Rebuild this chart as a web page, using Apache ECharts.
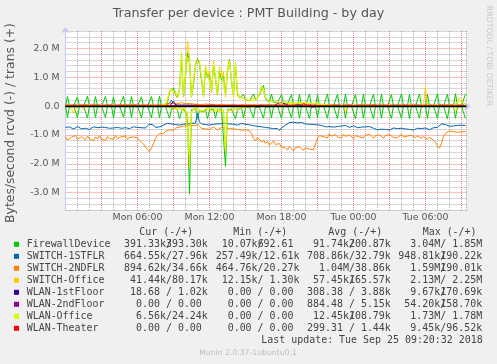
<!DOCTYPE html>
<html><head><meta charset="utf-8">
<script src="https://cdn.jsdelivr.net/npm/echarts@6/dist/echarts.min.js"></script>
<style>html,body{margin:0;padding:0;background:#f0f0f0}#c{width:497px;height:364px}</style>
</head><body><div id="c"></div>
<script>
// 10-minute samples from Mon 00:00; values in MB/s (rcvd drawn negative, as Munin does)
const STEP_HOURS = 1/6;

const deviceNames = ['FirewallDevice','SWITCH-1STFLR','SWITCH-2NDFLR','SWITCH-Office','WLAN-1stFloor','WLAN-2ndFloor','WLAN-Office','WLAN-Theater'];
const deviceColors = ['#00CC00','#0066B3','#FF8000','#FFCC00','#330099','#990099','#CCFF00','#FF0000'];

const firewallTrans = [
0,0.33,0,0,0,0,0.32,0,0,0,0,0.34,0,0,0,0.33,0,0,0,0,
0.33,0,0,0,0.32,0,0,0,0,0.34,0,0,0,0.33,0,0,0,0,0.32,0,
0,0,0,0.33,0,0,0,0.34,0,0,0.05,0.12,0.50,0.55,0.62,0.40,0.28,0.60,1.60,0.32,
1.00,1.85,1.50,0.32,0.75,1.40,1.65,1.45,0.90,0.32,1.30,1.00,1.10,0.50,1.40,0.95,0.38,1.25,0.90,1.05,
0.42,1.20,1.62,0.85,0.38,1.40,0.42,0.28,0.24,0.40,0.24,0.20,0.18,0.20,0.42,0.22,0.18,0.38,0.58,0.72,
0.24,0.18,0.14,0.42,0.12,0.10,0.12,0.10,0.40,0.10,0.08,0.06,0.05,0.40,0.04,0.03,0.02,0.40,0.02,0.02,
0,0,0.42,0,0,0,0.40,0,0,0,0,0.42,0,0,0,0,0.41,0,0,0,
0.42,0,0,0,0,0.40,0,0,0,0.42,0,0,0,0,0.41,0,0,0,0.42,0,
0,0,0,0.40,0,0,0,0,0.42,0,0,0,0.41,0,0,0,0,0.42,0,0,
0,0.40,0,0,0,0,0.42,0,0,0,0,0.41,0,0,0,0.43,0,0,0,0,
0.42];
const firewallRcvd = [
0,-0.40,0,0,0,0,-0.39,0,0,0,0,-0.41,0,0,0,-0.40,0,0,0,0,
-0.40,0,0,0,-0.41,0,0,0,0,-0.39,0,0,0,-0.40,0,0,0,0,-0.41,0,
0,0,0,-0.40,0,0,0,-0.41,0,0,-0.02,-0.05,-0.42,-0.10,-0.12,-0.08,-0.15,-0.44,-0.18,-0.10,
-0.20,-0.45,-3.04,-0.12,-0.18,-0.10,-0.42,-0.15,-0.12,-0.20,-0.10,-0.44,-0.14,-0.18,-0.10,-0.42,-0.12,-0.16,-0.10,-0.14,
-2.09,-0.12,-0.18,-0.10,-0.14,-0.43,-0.12,-0.08,-0.06,-0.42,-0.05,-0.04,-0.05,-0.03,-0.41,-0.04,-0.03,-0.05,-0.04,-0.42,
-0.03,-0.02,-0.03,-0.41,-0.02,-0.02,-0.01,-0.02,-0.42,-0.01,0,0,0,-0.41,0,0,0,-0.42,0,0,
0,0,-0.43,0,0,0,-0.41,0,0,0,0,-0.42,0,0,0,0,-0.43,0,0,0,
-0.42,0,0,0,0,-0.44,0,0,0,-0.42,0,0,0,0,-0.43,0,0,0,-0.42,0,
0,0,0,-0.43,0,0,0,0,-0.42,0,0,0,-0.44,0,0,0,0,-0.42,0,0,
0,-0.43,0,0,0,0,-0.42,0,0,0,0,-0.44,0,0,0,-0.42,0,0,0,0,
-0.43];

const switch1Trans = [
0.03,0.03,0.02,0.03,0.04,0.03,0.03,0.02,0.03,0.03,0.04,0.03,0.02,0.03,0.03,0.03,0.04,0.03,0.02,0.03,
0.03,0.03,0.04,0.03,0.02,0.03,0.03,0.03,0.04,0.03,0.03,0.02,0.03,0.03,0.04,0.03,0.03,0.02,0.03,0.03,
0.03,0.04,0.03,0.03,0.02,0.03,0.03,0.04,0.03,0.03,0.04,0.06,0.10,0.19,0.09,0.05,0.04,0.08,0.04,0.03,
0.04,0.05,0.04,0.03,0.04,0.05,0.06,0.04,0.03,0.04,0.03,0.04,0.05,0.04,0.03,0.04,0.03,0.04,0.03,0.04,
0.03,0.04,0.03,0.03,0.04,0.03,0.03,0.04,0.03,0.03,0.03,0.04,0.03,0.03,0.03,0.04,0.03,0.03,0.04,0.03,
0.03,0.03,0.04,0.03,0.03,0.03,0.04,0.03,0.03,0.03,0.04,0.03,0.03,0.03,0.04,0.03,0.03,0.03,0.04,0.03,
0.03,0.03,0.02,0.03,0.04,0.03,0.03,0.02,0.03,0.03,0.04,0.03,0.02,0.03,0.03,0.03,0.04,0.03,0.02,0.03,
0.03,0.03,0.04,0.03,0.02,0.03,0.03,0.03,0.04,0.03,0.03,0.02,0.03,0.03,0.04,0.03,0.03,0.02,0.03,0.03,
0.03,0.03,0.02,0.03,0.04,0.03,0.03,0.02,0.03,0.03,0.04,0.03,0.02,0.03,0.03,0.03,0.04,0.03,0.02,0.03,
0.03,0.03,0.04,0.03,0.02,0.03,0.03,0.03,0.04,0.03,0.03,0.02,0.03,0.03,0.04,0.03,0.03,0.02,0.03,0.03,
0.03];
const switch1Rcvd = [
-0.74,-0.78,-0.72,-0.77,-0.80,-0.75,-0.71,-0.76,-0.79,-0.74,-0.77,-0.73,-0.81,-0.76,-0.72,-0.78,-0.75,-0.79,-0.73,-0.76,
-0.74,-0.80,-0.77,-0.72,-0.76,-0.78,-0.74,-0.71,-0.77,-0.79,-0.75,-0.73,-0.78,-0.76,-0.72,-0.77,-0.74,-0.79,-0.75,-0.73,
-0.76,-0.72,-0.62,-0.58,-0.66,-0.74,-0.76,-0.72,-0.70,-0.66,-0.63,-0.60,-0.65,-0.62,-0.59,-0.64,-0.61,-0.66,-0.60,-0.63,
-0.58,-0.62,-0.65,-0.60,-0.63,-0.59,-0.26,-0.55,-0.62,-0.59,-0.64,-0.61,-0.66,-0.60,-0.63,-0.58,-0.62,-0.65,-0.61,-0.63,
-0.60,-0.64,-0.62,-0.59,-0.63,-0.61,-0.66,-0.62,-0.60,-0.64,-0.63,-0.61,-0.65,-0.66,-0.68,-0.65,-0.70,-0.69,-0.72,-0.70,
-0.74,-0.73,-0.76,-0.75,-0.78,-0.80,-0.78,-0.85,-0.76,-0.72,-0.66,-0.61,-0.57,-0.60,-0.56,-0.59,-0.58,-0.61,-0.57,-0.60,
-0.62,-0.59,-0.63,-0.66,-0.64,-0.68,-0.65,-0.70,-0.67,-0.69,-0.72,-0.68,-0.71,-0.70,-0.73,-0.68,-0.71,-0.74,-0.69,-0.72,
-0.67,-0.71,-0.74,-0.70,-0.68,-0.72,-0.75,-0.70,-0.73,-0.69,-0.72,-0.76,-0.71,-0.74,-0.77,-0.79,-0.82,-0.77,-0.80,-0.76,
-0.81,-0.78,-0.83,-0.79,-0.76,-0.80,-0.78,-0.82,-0.77,-0.80,-0.79,-0.76,-0.81,-0.78,-0.83,-0.79,-0.77,-0.81,-0.78,-0.80,
-0.76,-0.79,-0.82,-0.78,-0.75,-0.77,-0.74,-0.68,-0.62,-0.60,-0.64,-0.67,-0.70,-0.66,-0.69,-0.72,-0.67,-0.70,-0.66,-0.69,
-0.68];

const switch2Trans = [
0.04,0.03,0.04,0.05,0.04,0.04,0.03,0.04,0.05,0.04,0.04,0.03,0.04,0.04,0.05,0.04,0.03,0.04,0.04,0.05,
0.04,0.03,0.04,0.05,0.04,0.04,0.03,0.04,0.05,0.04,0.04,0.03,0.04,0.04,0.05,0.04,0.03,0.04,0.04,0.05,
0.04,0.03,0.04,0.05,0.04,0.04,0.03,0.04,0.05,0.04,0.05,0.06,0.08,0.07,0.09,0.06,0.08,0.10,0.12,0.07,
0.08,0.10,0.09,0.06,0.07,0.08,0.06,0.07,0.05,0.06,0.07,0.05,0.06,0.05,0.06,0.05,0.04,0.05,0.06,0.05,
0.04,0.03,0.04,0.05,0.04,0.04,0.03,0.04,0.05,0.04,0.04,0.03,0.04,0.04,0.05,0.04,0.03,0.04,0.04,0.05,
0.04,0.03,0.04,0.05,0.04,0.04,0.03,0.04,0.05,0.04,0.04,0.03,0.04,0.04,0.05,0.04,0.03,0.04,0.04,0.05,
0.04,0.03,0.04,0.05,0.04,0.04,0.03,0.04,0.05,0.04,0.04,0.03,0.04,0.04,0.05,0.04,0.03,0.04,0.04,0.05,
0.04,0.03,0.04,0.05,0.04,0.04,0.03,0.04,0.05,0.04,0.04,0.03,0.04,0.04,0.05,0.04,0.03,0.04,0.04,0.05,
0.04,0.03,0.04,0.05,0.04,0.04,0.03,0.04,0.05,0.04,0.04,0.03,0.04,0.04,0.05,0.04,0.03,0.04,0.04,0.05,
0.04,0.03,0.04,0.05,0.04,0.04,0.03,0.04,0.05,0.04,0.04,0.03,0.04,0.04,0.05,0.04,0.03,0.04,0.04,0.05,
0.04];
const switch2Rcvd = [
-1.05,-1.18,-1.22,-1.08,-1.12,-1.02,-1.15,-1.20,-1.06,-1.11,-1.17,-1.04,-1.13,-1.09,-1.21,-1.07,-1.14,-1.03,-1.16,-1.10,
-1.19,-1.05,-1.12,-1.08,-1.15,-1.02,-1.13,-1.18,-1.06,-1.11,-1.04,-1.16,-1.09,-1.13,-1.07,-1.12,-1.10,-1.18,-1.25,-1.32,
-1.42,-1.50,-1.58,-1.45,-1.30,-1.12,-1.02,-0.95,-0.92,-0.96,-0.88,-0.86,-0.82,-0.78,-0.84,-0.76,-0.80,-0.73,-0.77,-0.70,
-0.74,-0.68,-0.72,-0.66,-0.71,-0.69,-0.62,-0.70,-0.77,-0.73,-0.79,-0.75,-0.81,-0.76,-0.72,-0.78,-0.83,-0.77,-0.74,-0.80,
-0.76,-0.82,-0.78,-0.73,-0.79,-0.75,-0.81,-0.77,-0.84,-0.79,-0.82,-0.78,-0.85,-0.95,-1.12,-1.20,-1.08,-1.15,-1.25,-1.18,
-1.30,-1.22,-1.35,-1.28,-1.20,-1.33,-1.38,-1.30,-1.42,-1.36,-1.45,-1.52,-1.40,-1.48,-1.55,-1.44,-1.50,-1.42,-1.47,-1.53,
-1.45,-1.40,-1.49,-1.44,-1.51,-1.46,-1.12,-1.02,-0.98,-1.06,-1.01,-1.10,-0.96,-1.04,-1.08,-0.99,-1.07,-1.03,-1.11,-0.97,
-1.05,-1.09,-1.00,-1.06,-1.13,-1.02,-0.98,-1.07,-1.04,-1.10,-1.01,-1.06,-0.97,-1.05,-1.12,-1.03,-1.08,-1.00,-1.06,-1.11,
-1.02,-1.07,-0.99,-1.04,-1.09,-1.03,-1.10,-1.05,-0.98,-1.07,-1.13,-1.04,-1.08,-1.01,-1.06,-1.10,-1.03,-1.07,-1.12,-1.05,
-1.09,-1.15,-1.08,-1.12,-1.18,-1.25,-1.38,-1.46,-1.30,-1.05,-0.95,-0.90,-0.86,-0.92,-0.88,-0.84,-0.91,-0.87,-0.89,-0.85,
-0.88];

const switchOfficeTrans = [
0.01,0.01,0.01,0.01,0.01,0.01,0.01,0.01,0.01,0.01,0.01,0.01,0.01,0.01,0.01,0.01,0.01,0.01,0.01,0.01,
0.01,0.01,0.01,0.01,0.01,0.01,0.01,0.01,0.01,0.01,0.01,0.01,0.01,0.01,0.01,0.01,0.01,0.01,0.01,0.01,
0.01,0.01,0.01,0.01,0.01,0.01,0.01,0.01,0.02,0.05,0.08,0.15,0.55,0.62,0.45,0.52,0.28,0.58,1.88,0.30,
1.15,2.25,1.75,0.30,0.85,1.50,1.62,1.55,0.95,0.30,1.42,1.05,1.22,0.45,1.55,0.95,0.35,1.38,0.98,1.20,
0.30,1.30,1.58,0.90,0.30,1.52,0.35,0.35,0.28,0.32,0.22,0.28,0.18,0.25,0.20,0.30,0.22,0.45,0.70,0.65,
0.30,0.22,0.18,0.16,0.12,0.15,0.10,0.13,0.09,0.12,0.10,0.14,0.09,0.11,0.13,0.08,0.12,0.10,0.14,0.09,
0.11,0.08,0.12,0.10,0.07,0.09,0.11,0.06,0.08,0.05,0.04,0.03,0.02,0.01,0.01,0.01,0.01,0.01,0.01,0.01,
0.01,0.01,0.01,0.01,0.01,0.01,0.01,0.01,0.01,0.01,0.01,0.01,0.01,0.01,0.01,0.01,0.01,0.01,0.01,0.01,
0.01,0.01,0.01,0.01,0.01,0.01,0.01,0.01,0.01,0.01,0.01,0.01,0.01,0.01,0.01,0.01,0.01,0.01,0.01,0.01,
0.67,0.05,0.01,0.01,0.01,0.01,0.01,0.01,0.01,0.01,0.01,0.01,0.01,0.01,0.03,0.06,0.10,0.30,0.35,0.12,
0.05];
const switchOfficeRcvd = [
0,0,0,-0.08,-0.25,-0.10,0,0,0,-0.12,0,0,0,0,0,0,0,0,0,0,
0,0,0,0,0,0,0,0,0,0,0,0,0,0,0,0,0,0,0,0,
0,0,0,0,0,0,0,0,0,0,-0.01,-0.03,-0.06,-0.10,-0.08,-0.05,-0.12,-0.15,-0.10,-0.18,
-0.14,-0.20,-2.13,-0.25,-0.12,-0.16,-0.10,-0.18,-0.14,-0.22,-0.12,-0.15,-0.10,-0.18,-0.13,-0.16,-0.11,-0.20,-0.14,-0.17,
-1.60,-0.22,-0.15,-0.12,-0.18,-0.10,-0.14,-0.09,-0.06,-0.05,-0.04,-0.03,-0.02,-0.03,-0.02,-0.02,-0.01,-0.03,-0.02,-0.01,
0,0,0,0,0,0,0,0,0,0,0,0,0,0,0,0,0,0,0,0,
0,0,0,0,0,0,0,0,0,0,0,0,0,0,0,0,0,0,0,0,
-0.18,-0.08,0,0,0,0,0,0,0,0,0,0,0,0,0,0,0,0,0,0,
0,0,0,0,0,0,0,0,0,0,0,0,0,0,0,0,0,0,0,0,
0,0,0,0,0,0,0,0,0,0,0,0,0,0,-0.05,-0.18,-0.12,-0.04,0,0,
0];

const wlan1Trans = [
0,0,0,0,0,0,0,0,0,0,0,0,0,0,0,0,0,0,0,0,
0,0,0,0,0,0,0,0,0,0,0,0,0,0,0,0,0,0,0,0,
0,0,0,0,0,0,0,0,0,0,0,0,0,0.05,0.17,0.04,0,0,0,0,
0,0,0,0,0,0,0,0,0,0,0,0,0,0.03,0.07,0.02,0,0,0,0,
0,0,0,0,0,0,0,0,0,0,0,0,0,0,0,0,0,0,0,0,
0,0,0,0,0,0,0,0,0,0,0,0,0,0,0,0.03,0.05,0.04,0.02,0,
0,0,0,0,0,0,0,0,0,0,0,0,0,0,0,0,0,0,0,0,
0,0,0,0,0,0,0,0,0,0,0,0,0,0,0,0,0,0,0,0,
0,0,0,0,0,0,0,0,0,0,0,0,0,0,0,0,0,0,0,0,
0,0,0,0,0,0,0,0,0,0,0,0,0,0,0,0,0,0,0,0,
0];
const wlan1Rcvd = [
0,0,0,0,0,0,0,0,0,0,0,0,0,0,0,0,0,0,0,0,
0,0,0,0,0,0,0,0,0,0,0,0,0,0,0,0,0,0,0,0,
0,0,0,0,0,0,0,0,0,0,0,0,0,0,0,0,0,0,0,0,
0,0,0,0,0,0,0,0,0,0,0,0,0,0,0,0,0,0,0,0,
0,0,0,0,0,0,0,0,0,0,0,0,0,0,0,0,0,0,0,0,
0,0,0,0,0,0,0,0,0,0,0,0,0,0,0,0,-0.01,0,0,0,
0,0,0,0,0,0,0,0,0,0,0,0,0,0,0,0,0,0,0,0,
0,0,0,0,0,0,0,0,0,0,0,0,0,0,0,0,0,0,0,0,
0,0,0,0,0,0,0,0,0,0,0,0,0,0,0,0,0,0,0,0,
0,0,0,0,0,0,0,0,0,0,0,0,0,0,0,0,0,0,0,0,
0];

const wlan2Trans = [
0,0,0,0,0,0,0,0,0,0,0,0,0,0,0,0,0,0,0,0,
0,0,0,0,0,0,0,0,0,0,0,0,0,0,0,0,0,0,0,0,
0,0,0,0,0,0,0,0,0,0,0,0,0,0,0,0,0,0,0,0,
0,0,0,0,0,0,0,0,0,0,0,0,0,0,0,0,0,0,0,0,
0,0,0,0,0,0,0,0,0,0,0,0,0,0,0,0,0,0,0,0,
0,0,0,0,0,0.03,0.09,0.15,0.12,0.16,0.07,0.02,0,0,0,0,0,0,0,0,
0,0.03,0.05,0,0,0,0,0,0,0,0,0,0,0,0,0,0,0,0,0,
0,0,0,0,0,0,0,0,0,0,0,0,0,0,0,0,0,0,0,0,
0,0,0,0,0,0,0,0,0,0,0,0,0,0,0,0,0,0,0,0,
0,0,0,0,0,0,0,0,0,0,0,0,0,0,0,0,0,0,0,0,
0];
const wlan2Rcvd = [
0,0,0,0,0,0,0,0,0,0,0,0,0,0,0,0,0,0,0,0,
0,0,0,0,0,0,0,0,0,0,0,0,0,0,0,0,0,0,0,0,
0,0,0,0,0,0,0,0,0,0,0,0,0,0,0,0,0,0,0,0,
0,0,0,0,0,0,0,0,0,0,0,0,0,0,0,0,0,0,0,0,
0,0,0,0,0,0,0,0,0,0,0,0,0,0,0,0,0,0,0,0,
0,0,0,0,0,0,0,0,0,0,0,0,0,0,0,0,0,0,0,0,
0,0,-0.02,-0.05,-0.04,-0.02,0,0,0,0,0,0,0,0,0,0,0,0,0,0,
0,0,0,0,0,0,0,0,0,0,0,0,0,0,0,0,0,0,0,0,
0,0,0,0,0,0,0,0,0,0,0,0,0,0,0,0,0,0,0,0,
0,0,0,0,0,0,0,0,0,0,0,0,0,0,0,0,0,0,0,0,
0];

const wlanOfficeTrans = [
0,0,0,0,0,0,0,0,0,0,0,0,0,0,0,0,0,0,0,0,
0,0,0,0,0,0,0,0,0,0,0,0,0,0,0,0,0,0,0,0,
0,0,0,0,0,0,0,0,0.01,0.03,0.06,0.12,0.50,0.58,0.50,0.45,0.32,0.52,1.78,0.40,
1.05,1.70,1.60,0.35,0.90,1.40,1.55,1.48,1.05,0.40,1.35,1.10,1.15,0.55,1.45,1.05,0.45,1.30,1.05,1.10,
0.40,1.20,1.52,0.95,0.38,1.42,0.50,0.30,0.25,0.28,0.24,0.22,0.20,0.18,0.24,0.20,0.26,0.40,0.68,0.60,
0.26,0.20,0.16,0.14,0.15,0.11,0.14,0.12,0.10,0.13,0.15,0.11,0.09,0.12,0.10,0.14,0.11,0.09,0.12,0.10,
0.13,0.10,0.08,0.11,0.09,0.12,0.08,0.10,0.07,0.06,0.04,0.02,0.01,0,0,0,0,0,0,0,
0,0,0,0,0,0,0,0,0,0,0,0,0,0,0,0,0,0,0,0,
0,0,0,0,0,0,0,0,0,0,0,0,0,0,0,0,0,0,0,0,
0,0,0,0,0,0,0,0,0,0,0,0,0,0,0,0.03,0.08,0.20,0.25,0.08,
0.03];
const wlanOfficeRcvd = [
0,0,0,0,0,0,0,0,0,0,0,0,0,0,0,0,0,0,0,0,
0,0,0,0,0,0,0,0,0,0,0,0,0,0,0,0,0,0,0,0,
0,0,0,0,0,0,0,0,0,0,0,-0.02,-0.04,-0.06,-0.05,-0.03,-0.08,-0.10,-0.07,-0.12,
-0.10,-0.15,-1.73,-0.18,-0.08,-0.12,-0.07,-0.14,-0.10,-0.16,-0.08,-0.11,-0.07,-0.13,-0.09,-0.12,-0.08,-0.15,-0.10,-0.12,
-1.45,-0.16,-0.10,-0.08,-0.12,-0.07,-0.10,-0.06,-0.04,-0.03,-0.03,-0.02,-0.01,-0.02,-0.01,-0.01,0,-0.02,-0.01,0,
0,0,0,0,0,0,0,0,0,0,0,0,0,0,0,0,0,0,0,0,
0,0,0,0,0,0,0,0,0,0,0,0,0,0,0,0,0,0,0,0,
0,0,0,0,0,0,0,0,0,0,0,0,0,0,0,0,0,0,0,0,
0,0,0,0,0,0,0,0,0,0,0,0,0,0,0,0,0,0,0,0,
0,0,0,0,0,0,0,0,0,0,0,0,0,0,0,0,0,0,0,0,
0];

const wlanTheaterTrans = [
0,0,0,0,0,0,0,0,0,0,0,0,0,0,0,0,0,0,0,0,
0,0,0,0,0,0,0,0,0,0,0,0,0,0,0,0,0,0,0,0,
0,0,0,0,0,0,0,0,0,0,0,0,0,0,0,0,0,0,0,0,
0,0,0,0,0,0,0,0,0,0,0,0,0,0,0,0,0,0,0,0,
0,0,0,0,0,0,0,0,0,0,0,0,0,0,0,0,0,0,0,0,
0,0,0,0,0,0,0,0,0,0,0,0,0,0,0,0,0,0,0.02,0.09,
0.07,0.02,0,0,0,0,0,0,0.04,0.02,0,0,0,0,0,0,0,0,0,0,
0,0,0,0,0,0,0,0,0,0,0,0,0,0,0,0,0,0,0,0,
0,0,0,0,0,0,0,0,0,0,0,0,0,0,0,0,0,0,0,0,
0,0,0,0,0,0,0,0,0,0,0,0,0,0,0,0,0,0,0,0,
0];
const wlanTheaterRcvd = [
0,0,0,0,0,0,0,0,0,0,0,0,0,0,0,0,0,0,0,0,
0,0,0,0,0,0,0,0,0,0,0,0,0,0,0,0,0,0,0,0,
0,0,0,0,0,0,0,0,0,0,0,0,0,0,0,0,0,0,0,0,
0,0,0,0,0,0,0,0,0,0,0,0,0,0,0,0,0,0,0,0,
0,0,0,0,0,0,0,0,0,0,0,0,0,0,0,0,0,0,0,0,
0,0,0,0,0,0,0,0,0,0,0,0,0,0,0,0,0,0,0,-0.01,
0,0,0,0,0,0,0,0,0,0,0,0,0,0,0,0,0,0,0,0,
0,0,0,0,0,0,0,0,0,0,0,0,0,0,0,0,0,0,0,0,
0,0,0,0,0,0,0,0,0,0,0,0,0,0,0,0,0,0,0,0,
0,0,0,0,0,0,0,0,0,0,0,0,0,0,0,0,0,0,0,0,
0];

// axis ticks
const xTickHours = [6, 12, 18, 24, 30];
const xTickTexts = ['Mon 06:00','Mon 12:00','Mon 18:00','Tue 00:00','Tue 06:00'];
const yTickValuesM = [-3, -2, -1, 0, 1, 2];
const yTickTexts = ['-3.0 M','-2.0 M','-1.0 M','0.0','1.0 M','2.0 M'];

// legend table (rcvd part / trans part as rrdtool prints them)
const curRcvd   = ['391.33k','664.55k','894.62k',' 41.44k',' 18.68 ','  0.00 ','  6.56k','  0.00 '];
const curTrans  = ['393.30k',' 27.96k',' 34.66k',' 80.17k','  1.02k','  0.00 ',' 24.24k','  0.00 '];
const minRcvd   = [' 10.07k','257.49k','464.76k',' 12.15k','  0.00 ','  0.00 ','  0.00 ','  0.00 '];
const minTrans  = ['692.61 ',' 12.61k',' 20.27k','  1.30k','  0.00 ','  0.00 ','  0.00 ','  0.00 '];
const avgRcvd   = [' 91.74k','708.86k','  1.04M',' 57.45k','308.38 ','884.48 ',' 12.45k','299.31 '];
const avgTrans  = ['200.87k',' 32.79k',' 38.86k','165.57k','  3.88k','  5.15k','108.79k','  1.44k'];
const maxRcvd   = ['  3.04M','948.81k','  1.59M','  2.13M','  9.67k',' 54.20k','  1.73M','  9.45k'];
const maxTrans  = ['  1.85M','190.22k','190.01k','  2.25M','170.69k','158.70k','  1.78M',' 96.52k'];
const headerTexts = ['Cur (-/+)','Min (-/+)','Avg (-/+)','Max (-/+)'];

const rcvdArrays = [firewallRcvd, switch1Rcvd, switch2Rcvd, switchOfficeRcvd, wlan1Rcvd, wlan2Rcvd, wlanOfficeRcvd, wlanTheaterRcvd];
const transArrays = [firewallTrans, switch1Trans, switch2Trans, switchOfficeTrans, wlan1Trans, wlan2Trans, wlanOfficeTrans, wlanTheaterTrans];

function toData(arr) { return arr.map((v, i) => [i * STEP_HOURS, v * 1e6]); }

const series = [];
deviceNames.forEach((name, k) => {
  [rcvdArrays[k], transArrays[k]].forEach(arr => {
    series.push({
      type: 'line', name: name, data: toData(arr), showSymbol: false, symbol: 'none',
      lineStyle: { color: deviceColors[k], width: 1 }, itemStyle: { color: deviceColors[k] },
      animation: false, silent: true, z: 2
    });
  });
});
// Munin's black zero rule
series[series.length - 1].markLine = {
  silent: true, symbol: 'none', animation: false, label: { show: false },
  lineStyle: { color: '#000', width: 1.3, type: 'solid' },
  data: [{ yAxis: 0 }]
};

const G = 'rgba(110,110,110,0.55)';
const R = 'rgba(225,50,50,0.62)';
const mono = '"DejaVu Sans Mono"';
const sans = '"DejaVu Sans"';

const graphics = [];
graphics.push({ type: 'text', x: 248.5, y: 13.5, silent: true,
  style: { text: 'Transfer per device : PMT Building - by day', fill: '#555', fontSize: 12.7, fontFamily: sans, align: 'center', verticalAlign: 'middle' } });
graphics.push({ type: 'text', x: 10.5, y: 123, rotation: Math.PI / 2, silent: true,
  style: { text: 'Bytes/second rcvd (-) / trans (+)', fill: '#555', fontSize: 12.4, fontFamily: sans, align: 'center', verticalAlign: 'middle' } });
graphics.push({ type: 'text', x: 489.5, y: 56, rotation: -Math.PI / 2, silent: true,
  style: { text: 'RRDTOOL / TOBI OETIKER', fill: '#c8c8c8', fontSize: 7.8, fontFamily: sans, align: 'center', verticalAlign: 'middle' } });

const headerX = [139.3, 233.3, 328.3, 422.7];
headerTexts.forEach((t, j) => graphics.push({ type: 'text', x: headerX[j], y: 232.3, silent: true,
  style: { text: t, fill: '#444', fontSize: 9.95, fontFamily: mono, align: 'left', verticalAlign: 'middle' } }));

const colX = [124, 215.7, 307, 398.3];
const half = 7 * 5.99;
const cols = [[curRcvd, curTrans], [minRcvd, minTrans], [avgRcvd, avgTrans], [maxRcvd, maxTrans]];
deviceNames.forEach((name, k) => {
  const y = 244.3 + 12 * k;
  graphics.push({ type: 'rect', silent: true, shape: { x: 14, y: y - 2.5, width: 5, height: 5 }, style: { fill: deviceColors[k] } });
  graphics.push({ type: 'text', x: 26.7, y: y, silent: true,
    style: { text: name, fill: '#444', fontSize: 9.95, fontFamily: mono, align: 'left', verticalAlign: 'middle' } });
  cols.forEach((c, j) => {
    graphics.push({ type: 'text', x: colX[j], y: y, silent: true,
      style: { text: c[0][k] + '/', fill: '#444', fontSize: 9.95, fontFamily: mono, align: 'left', verticalAlign: 'middle' } });
    graphics.push({ type: 'text', x: colX[j] + half, y: y, silent: true,
      style: { text: c[1][k], fill: '#444', fontSize: 9.95, fontFamily: mono, align: 'left', verticalAlign: 'middle' } });
  });
});
graphics.push({ type: 'text', x: 482.7, y: 340.3, silent: true,
  style: { text: 'Last update: Tue Sep 25 09:20:32 2018', fill: '#444', fontSize: 9.95, fontFamily: mono, align: 'right', verticalAlign: 'middle' } });
graphics.push({ type: 'text', x: 248, y: 353.3, silent: true,
  style: { text: 'Munin 2.0.37-1ubuntu0.1', fill: '#bdbdbd', fontSize: 7.7, fontFamily: sans, align: 'center', verticalAlign: 'middle' } });

const chart = echarts.init(document.getElementById('c'), null, { renderer: 'canvas' });
chart.setOption({
  backgroundColor: '#f0f0f0',
  animation: false,
  grid: { left: 65.5, right: 30.5, top: 31, bottom: 154, show: true, backgroundColor: '#ffffff', borderWidth: 0 },
  xAxis: {
    type: 'value', min: 0, max: 33.42, interval: 1,
    axisLine: { show: true, lineStyle: { color: '#c3cbf2', width: 1 }, symbol: ['none', 'arrow'], symbolSize: [7, 6], symbolOffset: [0, 4] },
    axisTick: { show: false },
    splitLine: { show: true, lineStyle: { color: [R, G, G], type: [1, 1], width: 1 } },
    axisLabel: { interval: 0, margin: 3, color: '#555', fontSize: 9.4, fontFamily: 'DejaVu Sans',
      formatter: v => { const k = xTickHours.indexOf(Math.round(v * 1000) / 1000); return k >= 0 ? xTickTexts[k] : ''; } }
  },
  yAxis: {
    type: 'value', min: -3.6e6, max: 2.6e6, interval: 0.2e6,
    axisLine: { show: true, lineStyle: { color: '#c3cbf2', width: 1 }, symbol: ['none', 'arrow'], symbolSize: [7, 6], symbolOffset: [0, 4] },
    axisTick: { show: false },
    splitLine: { show: true, lineStyle: { color: [G, G, G, R, G], type: [1, 1], width: 1 } },
    axisLabel: { margin: 6, color: '#555', fontSize: 9.4, fontFamily: 'DejaVu Sans',
      formatter: v => { const m = v / 1e6; const k = yTickValuesM.findIndex(t => Math.abs(t - m) < 1e-6); return k >= 0 ? yTickTexts[k] : ''; } }
  },
  series: series,
  graphic: { elements: graphics }
});
</script>
</body></html>
